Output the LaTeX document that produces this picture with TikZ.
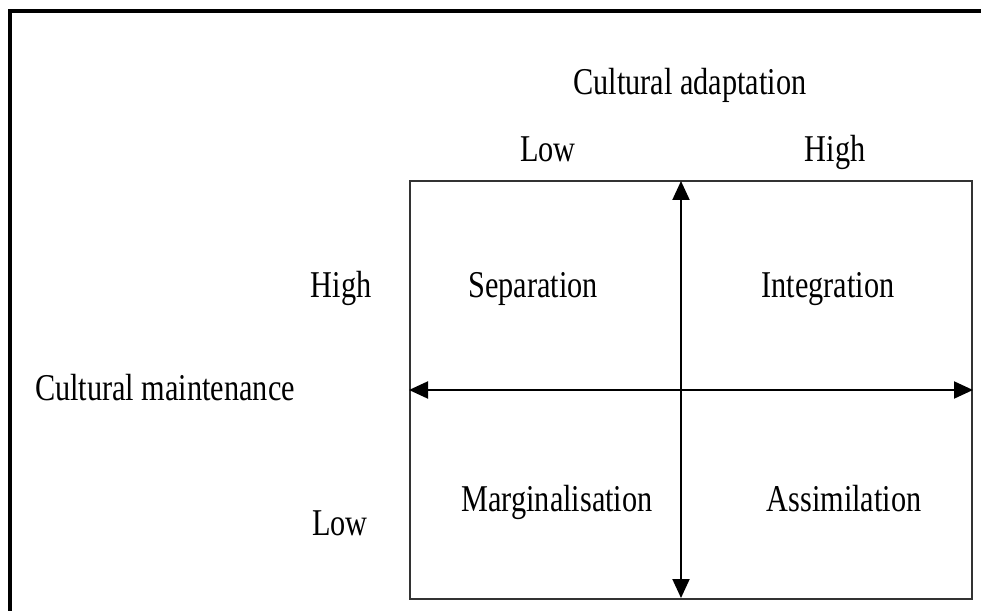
\documentclass[tikz,border=0pt]{standalone}
\usepackage{fontspec}
\newfontfamily\tnr[FakeStretch=0.8]{Liberation Serif}
\usetikzlibrary{arrows.meta}
\begin{document}
\begin{tikzpicture}[x=1bp,y=-1bp,
  lbl/.style={font=\tnr\fontsize{38}{40}\selectfont, inner sep=0pt, anchor=base},
  frame/.style={line width=3.5bp, black},
  boxline/.style={line width=2bp, draw=black!80},
  axis/.style={line width=2bp, black, {Triangle[length=19bp,width=17bp]}-{Triangle[length=19bp,width=17bp]}}]
\useasboundingbox (0,0) rectangle (981,611);
% outer frame (top and left edges visible)
\coordinate (fl) at (10,611);
\coordinate (ft) at (10,11);
\coordinate (fr) at (981,11);
\draw[frame] (fl) -- (ft) -- (fr);
% quadrant box
\node[boxline, draw, minimum width=562bp, minimum height=418bp, inner sep=0pt] (box) at (691,390) {};
% axes
\draw[axis] (box.west |- 0,390) coordinate (hl) -- (box.east |- 0,390) coordinate (hr);
\draw[axis] (681,181) coordinate (vt) -- (681,598) coordinate (vb);
% labels
\node[lbl] (ca) at (690,95) {Cultural adaptation};
\node[lbl] (lowT) at (548,162) {Low};
\node[lbl] (highT) at (835,162) {High};
\node[lbl] (highL) at (341,297) {High};
\node[lbl] (sep) at (533,297) {Separation};
\node[lbl] (int) at (828,297) {Integration};
\node[lbl] (cm) at (165,400) {Cultural maintenance};
\node[lbl] (lowL) at (340,535) {Low};
\node[lbl] (marg) at (557,511) {Marginalisation};
\node[lbl] (assim) at (844,511) {Assimilation};
\end{tikzpicture}
\end{document}
